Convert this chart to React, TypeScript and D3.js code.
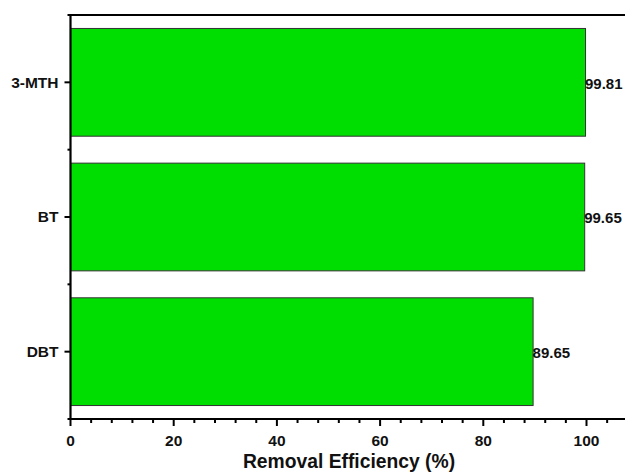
import React from "react";
import * as d3 from "d3";

const categories = ["3-MTH", "BT", "DBT"];
const values = [99.81, 99.65, 89.65];
const labels = ["99.81", "99.65", "89.65"];
const majorTicks = [0, 20, 40, 60, 80, 100];

export default function App() {
  const W = 625, H = 473;
  const left = 70.5, right = 625, top = 15, bottom = 419;
  const x = d3.scaleLinear().domain([0, 100]).range([left, 586.5]);
  const y = d3.scaleBand<string>().domain(categories).range([top, bottom]).paddingInner(0.2).paddingOuter(0.1);
  const minor = d3.range(0, 108, 4).filter((v) => v % 20 !== 0);
  const step = y.step();
  const boundaries = [top, top + step, top + 2 * step, bottom];
  const font = "'Liberation Sans', Arial, sans-serif";
  return (
    <svg width={W} height={H} style={{ position: "absolute", left: 0, top: 0, background: "#fff" }}>
      {categories.map((c, i) => (
        <g key={c}>
          <rect x={x(0)} y={y(c)!} width={x(values[i]) - x(0)} height={y.bandwidth()} fill="#00DD00" stroke="#333" strokeWidth={1} />
          <text x={x(values[i]) - 0.5} y={y(c)! + y.bandwidth() / 2 + 1} dy="0.35em" fontFamily={font} fontWeight="bold" fontSize={15} fill="#111">{labels[i]}</text>
          <line x1={left - 6} x2={left} y1={y(c)! + y.bandwidth() / 2} y2={y(c)! + y.bandwidth() / 2} stroke="#000" strokeWidth={2} />
          <text x={left - 12} y={y(c)! + y.bandwidth() / 2} dy="0.35em" textAnchor="end" fontFamily={font} fontWeight="bold" fontSize={15.5} fill="#111">{c}</text>
        </g>
      ))}
      {boundaries.map((b, i) => (
        <line key={"yb" + i} x1={left - 3} x2={left} y1={b} y2={b} stroke="#000" strokeWidth={2} />
      ))}
      <line x1={left - 1} x2={right} y1={top} y2={top} stroke="#000" strokeWidth={2} />
      <line x1={left} x2={left} y1={top - 1} y2={bottom + 1} stroke="#000" strokeWidth={2.2} />
      <line x1={left - 1} x2={right} y1={bottom} y2={bottom} stroke="#000" strokeWidth={2} />
      {majorTicks.map((t) => (
        <g key={"t" + t}>
          <line x1={x(t)} x2={x(t)} y1={bottom} y2={bottom + 7} stroke="#000" strokeWidth={2} />
          <text x={x(t)} y={446} textAnchor="middle" fontFamily={font} fontWeight="bold" fontSize={15.5} fill="#111">{t}</text>
        </g>
      ))}
      {minor.map((t) => (
        <line key={"m" + t} x1={x(t)} x2={x(t)} y1={bottom} y2={bottom + 4} stroke="#000" strokeWidth={2} />
      ))}
      <text x={349} y={468} textAnchor="middle" fontFamily={font} fontWeight="bold" fontSize={19.3} fill="#111">Removal Efficiency (%)</text>
    </svg>
  );
}
